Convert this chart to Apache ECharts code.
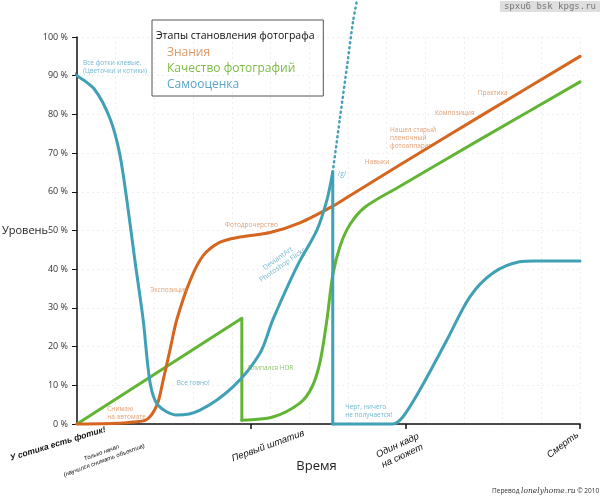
<!DOCTYPE html>
<html>
<head>
<meta charset="utf-8">
<script src="https://cdn.jsdelivr.net/npm/echarts@6/dist/echarts.min.js"></script>
<style>
html,body{margin:0;padding:0;background:#fff;}
#chart{width:600px;height:503px;}
</style>
</head>
<body>
<div id="chart"></div>
<script>
// ---- DATA (time in grid columns 0..13, level in %) ----
const timeTicks = [0, 4.5, 8.5, 13];
const timeLabels = ['У сотика есть фотик!', 'Первый штатив', 'Один кадр\nна сюжет', 'Смерть'];
const startNote = 'Только начал\n(научился снимать объектив)';

const seriesNames = ['Знания', 'Качество фотографий', 'Самооценка'];

// Знания
const knowledge = [[0,0],[1.11,0.2],[1.45,0.5],[1.81,1.2],[2.07,5],[2.22,11],[2.40,19],[2.58,27],[2.92,37],[3.26,43.5],[3.70,47],[4.21,48.3],[4.99,49.5],[5.76,52],[6.61,56.3],[7.05,59],[8.35,67],[10.5,80],[13,95]];

// Качество фотографий
const qualityClimb = [[0,0],[4.26,27.3],[4.26,1]];
const qualityRecover = [[4.26,1],[5.06,1.8],[5.76,5.4],[6.07,9.5],[6.28,16],[6.46,27],[6.61,38.5],[6.80,46],[7.05,51.5],[7.44,56],[8.27,61],[10.5,74],[13,88.4]];

// Самооценка
const selfLeadIn = [[-1.01,99.5],[-0.5,95],[0,90]];
const selfFall = [[0,90],[0.45,86.5],[0.85,79],[1.1,70],[1.3,57],[1.50,42],[1.71,26.9],[1.89,10.6],[2.09,4.9],[2.58,2.3],[3.18,3.6],[4.03,9.6],[4.73,18.3],[5.06,26.9],[5.68,40.6],[6.20,50.1],[6.46,57.9],[6.61,65.1]];
const selfCrash = [[6.61,65.1],[6.61,0]];
const selfRecover = [[6.61,0],[8.16,0],[8.42,1.8],[8.86,8.8],[9.56,21.7],[10.15,32.8],[10.75,39],[11.44,41.9],[11.83,42.1],[13,42.1]];
const selfHype = [[6.61,65.1],[6.79,78.6],[7.0,94],[7.14,104.4],[7.24,109.6]];

// annotations: text, anchor (time, level), which curve
const notes = [
  {text:'Все фотки клевые,\n(Цветочки и котики)', at:[0.155,94.3], tone:2},
  {text:'Снимаю\nна автомате', at:[0.78,4.9], tone:0},
  {text:'Экспозиция', at:[1.89,35.7], tone:0},
  {text:'Фотодрочерство', at:[3.82,52.5], tone:0},
  {text:'Все говно!', at:[2.58,11.6], tone:2},
  {text:'Влипался HDR', at:[4.42,15.5], tone:1},
  {text:'/g/', at:[6.74,65.6], tone:2},
  {text:'Черт, ничего\nне получается!', at:[6.93,5.4], tone:2},
  {text:'Навыки', at:[7.44,68.7], tone:0},
  {text:'Нашел старый\nпленочный\nфотоаппарат', at:[8.09,77], tone:0},
  {text:'Композиция', at:[9.25,81.4], tone:0},
  {text:'Практика', at:[10.36,86.6], tone:0}
];
const rotatedNote = {text:'DeviantArt\nPhotoshop Flickr', at:[5.25,41.9], tone:2};

// ---- STYLE ----
const lineColors = ['#d4661f', '#62b534', '#3fa0b6'];
const textColors = ['#d9874e', '#6fb83f', '#4ea5c4'];
const legendColors = ['#e09a66', '#7dbb45', '#5aa6c6'];
const FONT = 'Open Sans, Noto Sans, sans-serif';
const XFONT = 'Liberation Sans, Arial, sans-serif';

const chart = echarts.init(document.getElementById('chart'), null, {renderer:'canvas'});

function lineSeries(name, idx, data, opts) {
  return Object.assign({
    name: name, type: 'line', data: data, showSymbol: false, symbol: 'none',
    smooth: 0.3, clip: false, silent: true,
    lineStyle: {color: lineColors[idx], width: 3, cap: 'round', join: 'round'},
    itemStyle: {color: lineColors[idx]}
  }, opts || {});
}

function labelAxis(value, text, rot, margin, pad, size, weight, showTick) {
  return {
    type: 'value', min: 0, max: 13, position: 'bottom', gridIndex: 0,
    axisLine: {show: false}, splitLine: {show: false},
    axisTick: {show: showTick, customValues: [value], length: 5, lineStyle: {color: '#111', width: 1.5}},
    axisLabel: {
      show: true, customValues: [value], formatter: function(){ return text; },
      rotate: rot, align: 'center', verticalAlign: 'middle', margin: margin, padding: pad,
      fontSize: size, fontWeight: weight, fontStyle: 'italic', color: '#111', fontFamily: XFONT, lineHeight: size + 2
    }
  };
}

const option = {
  animation: false,
  backgroundColor: '#ffffff',
  textStyle: {fontFamily: FONT},
  title: {
    text: 'Этапы становления фотографа', left: 156, top: 31, padding: 0,
    textStyle: {fontSize: 10.5, fontWeight: 'normal', color: '#111', fontFamily: FONT}
  },
  legend: {
    orient: 'vertical', left: 152, top: 20,
    padding: [26, 28, 5, 10], itemGap: 3, itemWidth: 0, itemHeight: 0,
    borderColor: '#555', borderWidth: 1, selectedMode: false,
    textStyle: {fontSize: 12, fontFamily: FONT, lineHeight: 13},
    data: seriesNames.map((n, i) => ({name: n, icon: 'rect', textStyle: {color: legendColors[i]}}))
  },
  grid: {left: 77, right: 20, top: 37, bottom: 79, containLabel: false, outerBoundsMode: 'none'},
  xAxis: [
    {
      type: 'value', min: 0, max: 13, interval: 1, position: 'bottom',
      axisLine: {show: true, lineStyle: {color: '#111', width: 1.5}},
      axisTick: {show: false}, axisLabel: {show: false},
      splitLine: {show: true, lineStyle: {color: '#efefef', type: [2, 3]}},
      name: 'Время', nameLocation: 'middle', nameGap: 36, nameMoveOverlap: false,
      nameTextStyle: {fontSize: 13, color: '#222', fontFamily: FONT, padding: [0, 24, 0, 0]}
    },
    labelAxis(timeTicks[0], timeLabels[0], 17, 14, [0, 40, 0, 0], 8.5, 'bold', false),
    labelAxis(timeTicks[1], timeLabels[1], 20, 28, [0, 0, 0, 36], 9.5, 'normal', true),
    labelAxis(timeTicks[2], timeLabels[2], 25, 24, [0, 13, 0, 0], 9.5, 'normal', true),
    labelAxis(timeTicks[3], timeLabels[3], 37, 8, [0, 43, 0, 0], 9.5, 'normal', true),
    labelAxis(timeTicks[0], startNote, 20, 42, [0, 0, 0, 55], 6, 'normal', false)
  ],
  yAxis: {
    type: 'value', min: 0, max: 100, interval: 10,
    axisLine: {show: true, lineStyle: {color: '#111', width: 1.5}},
    axisTick: {show: true, length: 5, lineStyle: {color: '#111'}},
    axisLabel: {formatter: '{value} %', fontSize: 9, color: '#333', margin: 9, fontFamily: FONT},
    splitLine: {show: true, lineStyle: {color: '#efefef', type: [2, 3]}},
    name: 'Уровень', nameLocation: 'middle', nameGap: 52, nameRotate: 0, nameMoveOverlap: false,
    nameTextStyle: {fontSize: 11, color: '#222', align: 'center', verticalAlign: 'middle', fontFamily: FONT}
  },
  series: [
    lineSeries(seriesNames[1], 1, qualityClimb, {smooth: false}),
    lineSeries(seriesNames[1], 1, qualityRecover),
    lineSeries(seriesNames[0], 0, knowledge),
    lineSeries(seriesNames[2], 2, selfLeadIn, {lineStyle: {color: lineColors[2], width: 2.5, type: [1, 4], cap: 'round'}}),
    lineSeries(seriesNames[2], 2, selfFall),
    lineSeries(seriesNames[2], 2, selfCrash, {smooth: false}),
    lineSeries(seriesNames[2], 2, selfRecover),
    lineSeries(seriesNames[2], 2, selfHype, {lineStyle: {color: lineColors[2], width: 2.5, type: [1, 4], cap: 'round'}}),
    {
      type: 'scatter', name: 'notes', symbolSize: 0, silent: true, clip: false,
      data: notes.map(n => ({
        value: n.at, name: n.text,
        label: {color: textColors[n.tone]}
      })).concat([{
        value: rotatedNote.at, name: rotatedNote.text,
        label: {color: textColors[rotatedNote.tone], position: 'inside', rotate: 35, align: 'center', verticalAlign: 'middle', fontSize: 7}
      }]),
      label: {
        show: true, position: [0, 0], formatter: '{b}',
        fontSize: 6.5, lineHeight: 8, fontFamily: FONT
      },
      z: 5
    }
  ],
  graphic: [
    {
      type: 'text', right: 0, top: 1,
      style: {
        text: 'spxu6 bsk kpgs.ru', fontSize: 9, fontFamily: 'DejaVu Sans Mono, monospace',
        fill: '#777', backgroundColor: '#dedede', padding: [1, 4, 1, 4]
      }
    },
    {
      type: 'text', left: 492, top: 487,
      style: {
        text: '{a|Перевод }{b|lonelyhome.ru}{a| © 2010}',
        rich: {
          a: {fontSize: 6.5, fill: '#333', fontFamily: FONT},
          b: {fontSize: 7.5, fill: '#333', fontStyle: 'italic', fontFamily: 'DejaVu Serif, serif'}
        }
      }
    }
  ]
};

chart.setOption(option);
</script>
</body>
</html>
